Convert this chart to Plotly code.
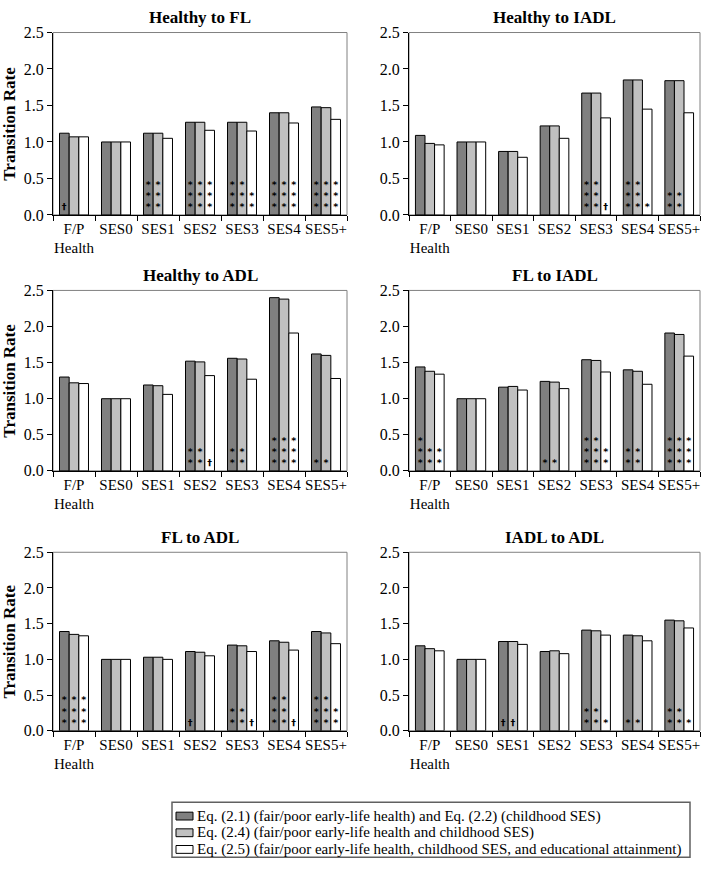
import plotly.graph_objects as go

categories = ["F/P<br>Health", "SES0", "SES1", "SES2", "SES3", "SES4", "SES5+"]
panel_titles = ["Healthy to FL", "Healthy to IADL", "Healthy to ADL",
                "FL to IADL", "FL to ADL", "IADL to ADL"]
series_names = [
    "Eq. (2.1) (fair/poor early-life health) and Eq. (2.2) (childhood SES)",
    "Eq. (2.4) (fair/poor early-life health and childhood SES)",
    "Eq. (2.5) (fair/poor early-life health, childhood SES, and educational attainment)",
]
y_ticks = [0.0, 0.5, 1.0, 1.5, 2.0, 2.5]

# Healthy to FL
h_fl_eq21 = [1.12, 1.00, 1.12, 1.27, 1.27, 1.40, 1.48]
h_fl_eq24 = [1.07, 1.00, 1.12, 1.27, 1.27, 1.40, 1.47]
h_fl_eq25 = [1.07, 1.00, 1.05, 1.16, 1.15, 1.26, 1.31]
h_fl_sig21 = ["†", "", "***", "***", "***", "***", "***"]
h_fl_sig24 = ["", "", "***", "***", "***", "***", "***"]
h_fl_sig25 = ["", "", "", "***", "**", "***", "***"]

# Healthy to IADL
h_iadl_eq21 = [1.09, 1.00, 0.87, 1.22, 1.67, 1.85, 1.84]
h_iadl_eq24 = [0.98, 1.00, 0.87, 1.22, 1.67, 1.85, 1.84]
h_iadl_eq25 = [0.96, 1.00, 0.79, 1.05, 1.33, 1.45, 1.40]
h_iadl_sig21 = ["", "", "", "", "***", "***", "**"]
h_iadl_sig24 = ["", "", "", "", "***", "***", "**"]
h_iadl_sig25 = ["", "", "", "", "†", "*", ""]

# Healthy to ADL
h_adl_eq21 = [1.30, 1.00, 1.19, 1.52, 1.56, 2.40, 1.62]
h_adl_eq24 = [1.22, 1.00, 1.18, 1.51, 1.55, 2.38, 1.60]
h_adl_eq25 = [1.21, 1.00, 1.06, 1.32, 1.27, 1.91, 1.28]
h_adl_sig21 = ["", "", "", "**", "**", "***", "*"]
h_adl_sig24 = ["", "", "", "**", "**", "***", "*"]
h_adl_sig25 = ["", "", "", "†", "", "***", ""]

# FL to IADL
fl_iadl_eq21 = [1.44, 1.00, 1.16, 1.24, 1.54, 1.40, 1.91]
fl_iadl_eq24 = [1.38, 1.00, 1.17, 1.23, 1.53, 1.38, 1.89]
fl_iadl_eq25 = [1.34, 1.00, 1.12, 1.14, 1.37, 1.20, 1.59]
fl_iadl_sig21 = ["***", "", "", "*", "***", "**", "***"]
fl_iadl_sig24 = ["**", "", "", "*", "***", "**", "***"]
fl_iadl_sig25 = ["**", "", "", "", "**", "", "***"]

# FL to ADL
fl_adl_eq21 = [1.39, 1.00, 1.03, 1.11, 1.20, 1.26, 1.39]
fl_adl_eq24 = [1.35, 1.00, 1.03, 1.10, 1.19, 1.24, 1.37]
fl_adl_eq25 = [1.33, 1.00, 1.00, 1.05, 1.11, 1.13, 1.22]
fl_adl_sig21 = ["***", "", "", "†", "**", "***", "***"]
fl_adl_sig24 = ["***", "", "", "", "**", "***", "***"]
fl_adl_sig25 = ["***", "", "", "", "†", "†", "**"]

# IADL to ADL
iadl_adl_eq21 = [1.19, 1.00, 1.25, 1.11, 1.41, 1.34, 1.55]
iadl_adl_eq24 = [1.15, 1.00, 1.25, 1.12, 1.40, 1.33, 1.54]
iadl_adl_eq25 = [1.12, 1.00, 1.21, 1.08, 1.34, 1.26, 1.44]
iadl_adl_sig21 = ["", "", "†", "", "**", "*", "**"]
iadl_adl_sig24 = ["", "", "†", "", "**", "*", "**"]
iadl_adl_sig25 = ["", "", "", "", "*", "", "*"]

panels = [
    ([h_fl_eq21, h_fl_eq24, h_fl_eq25], [h_fl_sig21, h_fl_sig24, h_fl_sig25]),
    ([h_iadl_eq21, h_iadl_eq24, h_iadl_eq25], [h_iadl_sig21, h_iadl_sig24, h_iadl_sig25]),
    ([h_adl_eq21, h_adl_eq24, h_adl_eq25], [h_adl_sig21, h_adl_sig24, h_adl_sig25]),
    ([fl_iadl_eq21, fl_iadl_eq24, fl_iadl_eq25], [fl_iadl_sig21, fl_iadl_sig24, fl_iadl_sig25]),
    ([fl_adl_eq21, fl_adl_eq24, fl_adl_eq25], [fl_adl_sig21, fl_adl_sig24, fl_adl_sig25]),
    ([iadl_adl_eq21, iadl_adl_eq24, iadl_adl_eq25], [iadl_adl_sig21, iadl_adl_sig24, iadl_adl_sig25]),
]

colors = ["#808080", "#c0c0c0", "#ffffff"]
W, H = 703, 880
SERIF = "Liberation Serif, Times New Roman, serif"
BARGAP = 0.31

col_x = [(53, 347), (409, 700)]
row_y = [(25, 211), (288, 472), (555, 737)]


def stack(s):
    # significance symbols stacked vertically inside the bar
    return ("<br>".join("<span style='font-size:9.5px;font-weight:bold'>" + ch + "</span>"
                        for ch in s) if s else "")


fig = go.Figure()
layout_axes = {}
annotations = []
shapes = []

for i, (vals, sigs) in enumerate(panels):
    r, c = divmod(i, 2)
    n = i + 1
    xs = "" if n == 1 else str(n)
    x0, x1 = col_x[c]
    yt, yb = row_y[r]
    xdom = [x0 / W, x1 / W]
    ydom = [1 - yb / H, 1 - yt / H]
    for k in range(3):
        fig.add_trace(go.Bar(
            x=categories, y=vals[k], name=series_names[k],
            marker=dict(color=colors[k], line=dict(color="#000000", width=1)),
            text=[stack(s) for s in sigs[k]],
            textposition="inside", insidetextanchor="start",
            constraintext="none", textangle=0,
            textfont=dict(family="DejaVu Sans", size=8.6, color="#000000"),
            xaxis="x" + xs, yaxis="y" + xs,
            showlegend=False, hoverinfo="skip",
        ))
    layout_axes["xaxis" + xs] = dict(
        domain=xdom, anchor="y" + xs, type="category",
        tickson="boundaries", ticks="outside", ticklen=5, tickcolor="#000000",
        tickangle=0,
        showline=True, linecolor="#000000", linewidth=1,
        showgrid=False, zeroline=False,
        tickfont=dict(family=SERIF, size=15, color="#000000"),
    )
    layout_axes["yaxis" + xs] = dict(
        domain=ydom, anchor="x" + xs, range=[0, 2.5],
        tickvals=y_ticks, tickformat=".1f",
        ticks="outside", ticklen=5, tickcolor="#000000",
        showline=True, linecolor="#000000", linewidth=1,
        showgrid=False, zeroline=False,
        tickfont=dict(family=SERIF, size=16, color="#000000"),
    )
    shapes.append(dict(type="rect", xref="x" + xs + " domain", yref="y" + xs + " domain",
                       x0=0, x1=1, y0=0, y1=1, line=dict(color="#808080", width=1),
                       layer="below"))
    annotations.append(dict(
        text="<b>" + panel_titles[i] + "</b>", xref="paper", yref="paper",
        x=(x0 + x1) / 2 / W, y=1 - (yt - 15) / H, xanchor="center", yanchor="middle",
        showarrow=False, font=dict(family=SERIF, size=17, color="#000000"),
    ))
    if c == 0:
        annotations.append(dict(
            text="<b>Transition Rate</b>", xref="paper", yref="paper",
            x=10 / W, y=1 - (yt + yb) / 2 / H, xanchor="center", yanchor="middle",
            textangle=-90, showarrow=False,
            font=dict(family=SERIF, size=17, color="#000000"),
        ))

# framed key under the panels
LEG_X0, LEG_X1, LEG_Y0, LEG_Y1 = 172, 690, 810, 866
shapes.append(dict(type="rect", xref="paper", yref="paper",
                   x0=LEG_X0 / W, x1=LEG_X1 / W, y0=1 - LEG_Y1 / H, y1=1 - LEG_Y0 / H,
                   line=dict(color="#606060", width=1.5), fillcolor="#ffffff"))
for k, name in enumerate(series_names):
    yc = 824 + k * 17
    shapes.append(dict(type="rect", xref="paper", yref="paper",
                       x0=176 / W, x1=193 / W, y0=1 - (yc + 4) / H, y1=1 - (yc - 4) / H,
                       line=dict(color="#000000", width=1), fillcolor=colors[k]))
    annotations.append(dict(
        text=name, xref="paper", yref="paper", x=195 / W, y=1 - yc / H,
        xanchor="left", yanchor="middle", showarrow=False,
        font=dict(family=SERIF, size=15, color="#000000"),
    ))

fig.update_layout(
    width=W, height=H,
    margin=dict(l=0, r=0, t=0, b=0),
    paper_bgcolor="#ffffff", plot_bgcolor="#ffffff",
    barmode="group", bargap=BARGAP, bargroupgap=0,
    annotations=annotations, shapes=shapes,
    showlegend=False,
    font=dict(family=SERIF, color="#000000"),
    **layout_axes,
)

fig.write_html(
    "out.html",
    config={"displayModeBar": False},
    post_script=("document.body.style.margin='0';document.body.style.overflow='hidden';"
                 "document.documentElement.style.overflow='hidden';"),
)
